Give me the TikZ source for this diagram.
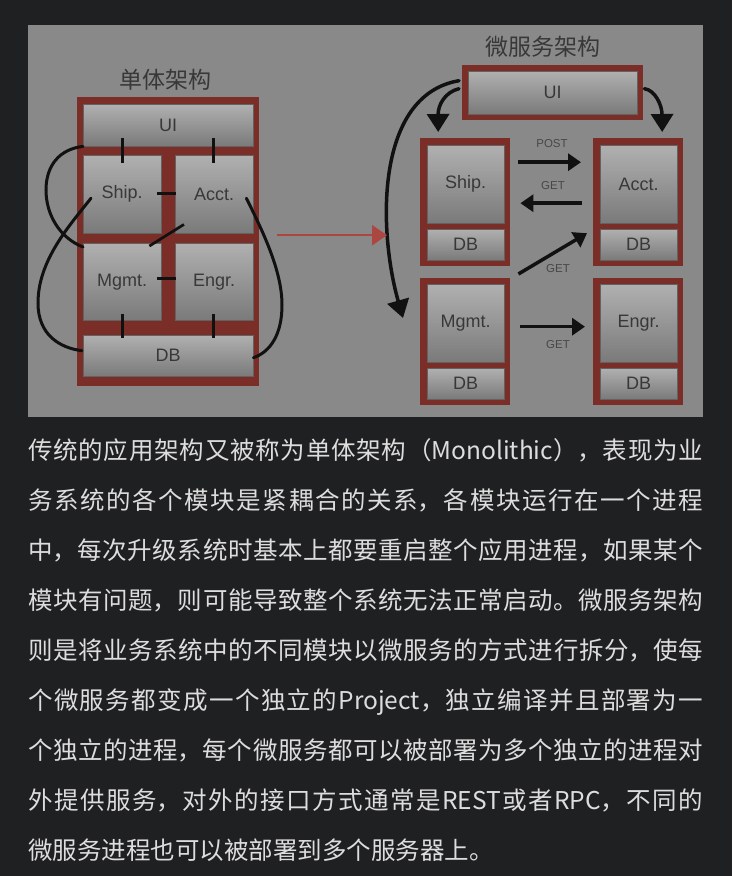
\documentclass[tikz,border=0pt]{standalone}
\usepackage{fontspec}
\setmainfont{Liberation Sans}
\newfontfamily\cjk{Noto Sans CJK SC}
\usetikzlibrary{arrows.meta,calc}
\XeTeXlinebreaklocale "zh"
\XeTeXlinebreakskip=0pt plus 3pt
\definecolor{pagebg}{HTML}{1F2022}
\definecolor{diagbg}{HTML}{898989}
\definecolor{frameRed}{HTML}{7B2E27}
\definecolor{boxTop}{HTML}{B0B0B0}
\definecolor{boxBot}{HTML}{7A7A7A}
\definecolor{lblGray}{HTML}{383838}
\definecolor{ink}{HTML}{111111}
\definecolor{redArrow}{HTML}{AC4640}
\definecolor{txt}{HTML}{DDDDDD}
\definecolor{smallLbl}{HTML}{474747}
\begin{document}
\begin{tikzpicture}[x=1pt,y=-1pt,
  frame/.style={fill=frameRed,draw=none,inner sep=0pt,anchor=north west},
  mbox/.style={top color=boxTop,bottom color=boxBot,draw=boxBot!80!black,line width=0.4pt,inner sep=0pt,anchor=north west,text=lblGray,font=\fontsize{18}{20}\selectfont},
  ttl/.style={font=\cjk\fontsize{23}{23}\selectfont,text=lblGray,inner sep=0pt},
  tick/.style={draw=ink,line width=2.7pt},
  loopline/.style={draw=ink,line width=3pt,line cap=round},
  harrow/.style={draw=ink,line width=3.5pt,-{Triangle[width=17pt,length=13pt]}},
  carrow/.style={draw=ink,line width=3.5pt,line cap=round,-{Triangle[width=22pt,length=18pt]}},
  redarrow/.style={draw=redArrow,line width=2.5pt,-{Triangle[width=20pt,length=15pt]}},
  small/.style={font=\fontsize{11.5}{12}\selectfont,text=smallLbl,inner sep=0pt}
]
\useasboundingbox (0,0) rectangle (732,876);
\fill[pagebg] (0,0) rectangle (732,876);
\fill[diagbg] (28,25) rectangle (703,417);

% ---------- monolithic ----------
\node[ttl] (tMono) at (165,80) {单体架构};
\node[frame,minimum width=182pt,minimum height=289pt] (mono) at (77,97) {};
\node[mbox,minimum width=170pt,minimum height=42pt] (mUI) at (83,104) {UI};
\node[mbox,minimum width=78pt,minimum height=78pt] (mShip) at (83,155) {Ship.};
\node[mbox,minimum width=78pt,minimum height=78pt] (mAcct) at (175,155) {Acct.};
\node[mbox,minimum width=78pt,minimum height=77pt] (mMgmt) at (83,243) {Mgmt.};
\node[mbox,minimum width=78pt,minimum height=77pt] (mEngr) at (175,243) {Engr.};
\node[mbox,minimum width=170pt,minimum height=41pt] (mDB) at (83,335) {DB};

\draw[tick] ($(mShip.north)+(0,-17)$) -- ($(mShip.north)+(0,8)$);
\draw[tick] ($(mAcct.north)+(-1,-17)$) -- ($(mAcct.north)+(-1,8)$);
\draw[tick] ($(mShip.east)+(-4,-1)$) -- ($(mAcct.west)+(1,-1)$);
\draw[tick] ($(mAcct.south west)+(9,-9)$) -- ($(mMgmt.north east)+(-12,3)$);
\draw[tick] ($(mMgmt.east)+(-4,-3)$) -- ($(mEngr.west)+(1,-3)$);
\draw[tick] ($(mMgmt.south)+(0,-6)$) -- ($(mMgmt.south)+(0,18)$);
\draw[tick] ($(mEngr.south)+(-1,-6)$) -- ($(mEngr.south)+(-1,18)$);

\coordinate (cA) at (46,190);
\coordinate (cB) at (38,303);
\coordinate (cC) at (282,305);
\draw[loopline] (mUI.south west) .. controls (60,149) and (46,165) .. (cA)
  .. controls (46,215) and (60,238) .. ($(mMgmt.north west)+(0,4)$);
\draw[loopline] ($(mShip.west)+(8,4)$) .. controls (70,225) and (38,260) .. (cB)
  .. controls (38,335) and (60,348) .. ($(mDB.west)+(-1,-5)$);
\draw[loopline] ($(mAcct.east)+(-7,4)$) .. controls (262,230) and (282,270) .. (cC)
  .. controls (282,335) and (270,352) .. ($(mDB.east)+(0,2)$);

% ---------- microservices ----------
\node[ttl] (tMicro) at (543,47) {微服务架构};
\node[frame,minimum width=181pt,minimum height=55pt] (uiF) at (462,65) {};
\node[mbox,minimum width=169pt,minimum height=43pt] (uiB) at (468,71) {UI};

\node[frame,minimum width=90pt,minimum height=128pt] (shipF) at (420,138) {};
\node[mbox,minimum width=77pt,minimum height=78pt] (shipB) at (427,145) {Ship.};
\node[mbox,minimum width=77pt,minimum height=31pt] (shipDB) at (427,229) {DB};

\node[frame,minimum width=90pt,minimum height=128pt] (acctF) at (593,138) {};
\node[mbox,minimum width=77pt,minimum height=78pt] (acctB) at (600,145) {Acct.};
\node[mbox,minimum width=77pt,minimum height=31pt] (acctDB) at (600,229) {DB};

\node[frame,minimum width=90pt,minimum height=127pt] (mgmtF) at (420,278) {};
\node[mbox,minimum width=77pt,minimum height=78pt] (mgmtB) at (427,284) {Mgmt.};
\node[mbox,minimum width=77pt,minimum height=31pt] (mgmtDB) at (427,368) {DB};

\node[frame,minimum width=90pt,minimum height=127pt] (engrF) at (593,278) {};
\node[mbox,minimum width=77pt,minimum height=78pt] (engrB) at (600,284) {Engr.};
\node[mbox,minimum width=77pt,minimum height=31pt] (engrDB) at (600,368) {DB};

\draw[harrow] ($(shipF.east)+(8,-40)$) -- ($(acctF.west)+(-12,-40)$);
\draw[harrow] ($(acctF.west)+(-11,1)$) -- ($(shipF.east)+(10,1)$);
\draw[harrow] ($(mgmtF.north east)+(8,-4)$) -- ($(acctF.west)+(-6,31)$);
\draw[harrow] ($(mgmtF.east)+(10,-15)$) -- ($(engrF.west)+(-8,-15)$);

\node[small] (lPost) at (552,144) {POST};
\node[small] (lGet1) at (553,186) {GET};
\node[small] (lGet2) at (558,269) {GET};
\node[small] (lGet3) at (558,345) {GET};

\draw[carrow] ($(uiF.west)+(-3,-4)$) .. controls (445,92) and (438,105) .. ($(shipF.north)+(-27,-6)$);
\draw[carrow] ($(uiF.east)+(1,-4)$) .. controls (655,90) and (662,105) .. ($(acctF.north)+(24,-6)$);
\draw[carrow] ($(uiF.west)+(-3,-12)$) .. controls (375,95) and (378,230) .. ($(mgmtF.north west)+(-17,40)$);

\draw[redarrow] ($(mono.east)+(18,-6.5)$) -- ($(shipF.west)+(-33,33)$);

% ---------- paragraph ----------
\node[anchor=base west,inner sep=0pt,text width=675pt,align=justify,text=txt,
      font=\cjk\fontsize{24.5}{50}\selectfont] (para) at (28,459)
{传统的应用架构又被称为单体架构（Monolithic），表现为业\linebreak
务系统的各个模块是紧耦合的关系，各模块运行在一个进程\linebreak
中，每次升级系统时基本上都要重启整个应用进程，如果某个\linebreak
模块有问题，则可能导致整个系统无法正常启动。微服务架构\linebreak
则是将业务系统中的不同模块以微服务的方式进行拆分，使每\linebreak
个微服务都变成一个独立的Project，独立编译并且部署为一\linebreak
个独立的进程，每个微服务都可以被部署为多个独立的进程对\linebreak
外提供服务，对外的接口方式通常是REST或者RPC，不同的\linebreak
微服务进程也可以被部署到多个服务器上。};
\end{tikzpicture}
\end{document}
